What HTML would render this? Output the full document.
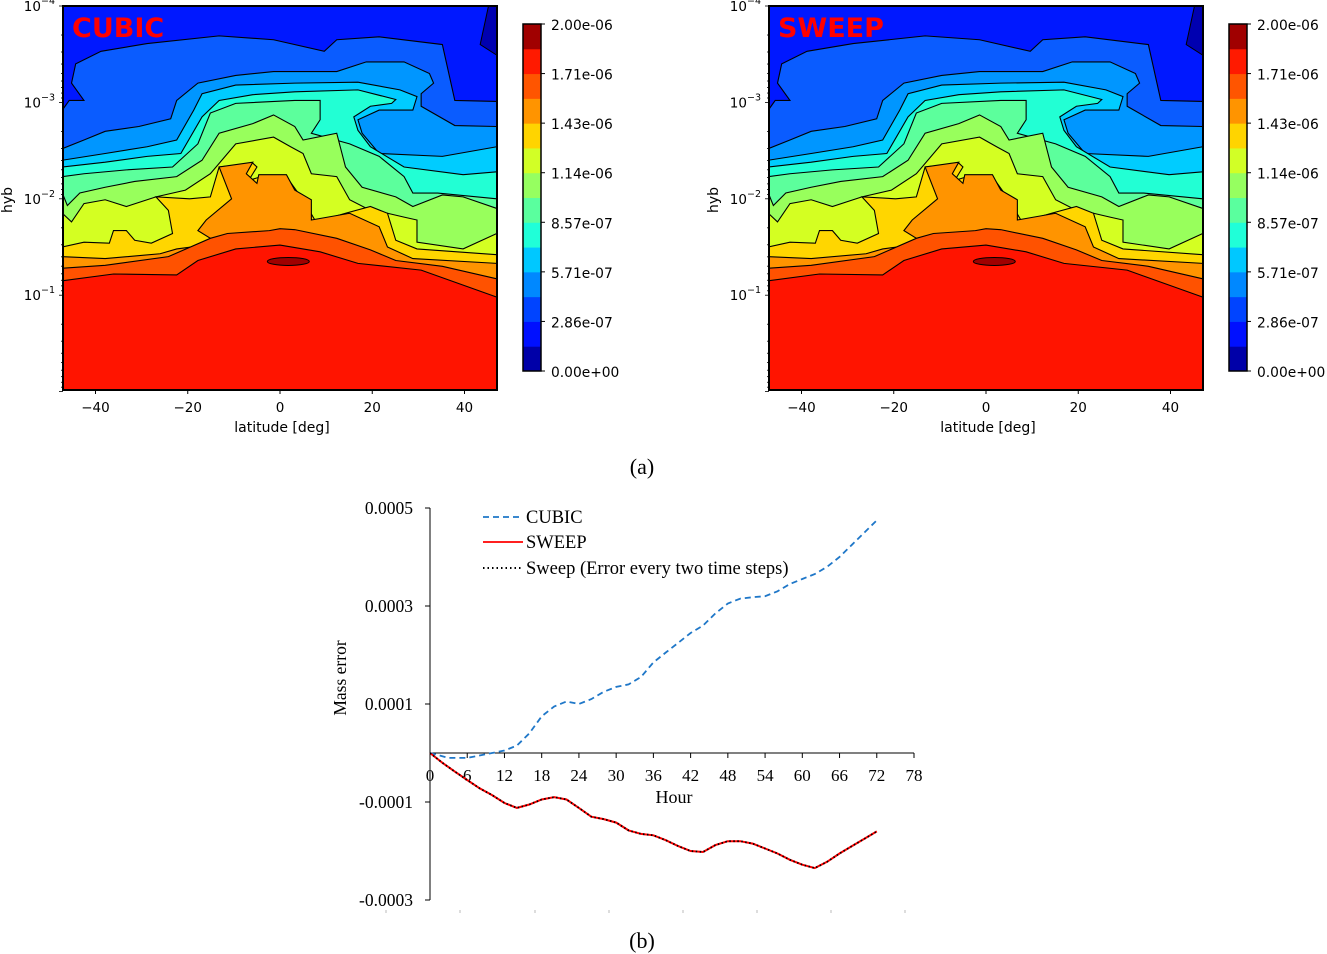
<!DOCTYPE html>
<html><head><meta charset="utf-8"><style>
html,body{margin:0;padding:0;background:#fff;}
svg{display:block;}
</style></head><body>
<svg id="root" width="1327" height="954" viewBox="0 0 1327 954" xmlns="http://www.w3.org/2000/svg"></svg>
<script>
// ---------- Contour data: band colors (top region first) and boundaries as [lat, log10(hyb)] ----------
const levelLabels = ["0.00e+00","2.86e-07","5.71e-07","8.57e-07","1.14e-06","1.43e-06","1.71e-06","2.00e-06"];
const cbarColors = ["#0000a8","#0010ff","#0044ff","#0088ff","#00c8ff","#20ffd8","#5aff9e","#96ff60","#d2ff26","#ffd400","#ff9400","#ff5500","#ff1a00","#a00000"];
const topBandColor = "#0018ff";
const bandColors = ["#0a5cff","#0096ff","#00ccff","#22ffd4","#5cff9c","#98ff5c","#d4ff22","#ffd600","#ff9400","#ff5200","#ff1400"];
const b1 = [[-47.2,-2.92],[-45.7,-3.02],[-42.5,-3.02],[-45.2,-3.2],[-44.3,-3.4],[-38.8,-3.53],[-28.8,-3.61],[-13.2,-3.69],[-1.4,-3.65],[9.6,-3.53],[12.3,-3.65],[21.5,-3.68],[35.2,-3.6],[37.9,-3.02],[47,-3.01]];
const b2 = [[-47.2,-2.52],[-42.5,-2.61],[-37.9,-2.7],[-30.6,-2.75],[-23.7,-2.83],[-22.4,-3.02],[-17.8,-3.2],[-9.6,-3.28],[-1.4,-3.32],[12.3,-3.32],[18.7,-3.42],[26.9,-3.42],[32.4,-3.3],[33.3,-3.2],[30.6,-3.09],[30.6,-2.96],[37.9,-2.76],[47,-2.75]];
const b3 = [[-47.2,-2.4],[-37.9,-2.47],[-28.8,-2.54],[-22.4,-2.61],[-18.7,-2.92],[-16.9,-3.09],[-9.6,-3.18],[3.2,-3.2],[16.9,-3.21],[26,-3.13],[29.7,-3.06],[28.8,-2.92],[21.5,-2.92],[16.9,-2.82],[17.8,-2.68],[21.5,-2.47],[35.2,-2.44],[47,-2.54]];
const b4 = [[-47.2,-2.33],[-37.9,-2.38],[-28.8,-2.44],[-21.5,-2.47],[-16.9,-2.85],[-13.2,-3.02],[-5.9,-3.08],[3.2,-3.11],[16.9,-3.13],[25.1,-3.03],[24.2,-2.99],[19.6,-2.96],[16,-2.85],[16.9,-2.71],[19.6,-2.54],[26.9,-2.33],[39.7,-2.25],[47,-2.28]];
const b5 = [[-47.2,-2.23],[-42.5,-2.26],[-33.3,-2.3],[-23.3,-2.33],[-17.8,-2.57],[-15.1,-2.89],[-9.6,-2.99],[3.2,-3.02],[8.7,-3.02],[8.7,-2.82],[6.8,-2.68],[15.1,-2.57],[21.5,-2.44],[26.9,-2.23],[28.8,-2.06],[34.2,-2.06],[47,-2.0]];
const b6 = [[-47.2,-2.06],[-46.1,-1.93],[-43.4,-2.06],[-37.9,-2.12],[-31.5,-2.18],[-22.4,-2.23],[-16.9,-2.4],[-13.2,-2.68],[-5.9,-2.78],[-1.4,-2.87],[3.2,-2.75],[5,-2.61],[12.3,-2.68],[14.2,-2.33],[17.8,-2.12],[25.1,-2.02],[28.8,-1.92],[35.2,-2.04],[39.7,-2.02],[47,-1.9]];
const b7 = [[-47.2,-1.85],[-45.2,-1.76],[-42.5,-1.95],[-37.9,-1.99],[-33.3,-1.92],[-26.9,-2.02],[-20.5,-2.09],[-15.1,-2.26],[-9.6,-2.57],[-1.4,-2.64],[2.3,-2.54],[5,-2.47],[6.8,-2.26],[12.3,-2.23],[15.1,-1.99],[19.6,-1.88],[23.3,-1.85],[26.9,-1.81],[29.7,-1.78],[29.7,-1.55],[39.7,-1.48],[47,-1.64]];
const b8 = [[-47.2,-1.5],[-42.5,-1.55],[-37,-1.54],[-36.1,-1.67],[-33.3,-1.67],[-31.5,-1.57],[-27.9,-1.54],[-23.3,-1.64],[-24.2,-1.88],[-26.9,-2.02],[-19.6,-2.0],[-15.1,-2.02],[-13.2,-2.33],[-5.9,-2.37],[-5,-2.33],[-6.8,-2.19],[-4.1,-2.23],[1.4,-2.23],[5,-1.99],[7.8,-1.76],[14.2,-1.85],[19.6,-1.92],[23.3,-1.85],[25.1,-1.57],[29.7,-1.48],[47,-1.42]];
const b9 = [[-47.2,-1.4],[-37.9,-1.38],[-26,-1.43],[-22.4,-1.48],[-16,-1.52],[-15.1,-1.59],[-17.8,-1.67],[-16,-1.78],[-10.5,-2.0],[-13.2,-2.33],[-5.9,-2.38],[-7.3,-2.26],[-5,-2.16],[-4.6,-2.25],[1.4,-2.25],[3.2,-2.09],[6.8,-1.99],[6.8,-1.78],[15.1,-1.85],[21.5,-1.71],[23.3,-1.5],[28.8,-1.38],[47,-1.33]];
const b10 = [[-47.2,-1.28],[-37.9,-1.31],[-24.2,-1.4],[-15.1,-1.59],[-11.4,-1.64],[-2.3,-1.67],[0,-1.69],[3.2,-1.68],[12.3,-1.59],[19.6,-1.47],[25.1,-1.36],[35.2,-1.3],[47,-1.17]];
const b11 = [[-47.2,-1.15],[-36.1,-1.22],[-22.4,-1.21],[-17.8,-1.36],[-9.6,-1.48],[0,-1.52],[8.7,-1.45],[16.9,-1.33],[30.6,-1.26],[47,-0.98]];
const boundaries = [b1,b2,b3,b4,b5,b6,b7,b8,b9,b10,b11];
const navyCorner = [[45.2,-4],[47,-4],[47,-3.49],[43.4,-3.6]];
const blobMaxCenter = [1.8,-1.35];

// ---------- Line chart data (hours, mass error in units of 1e-4) ----------
const hoursCubic = [0,3,6,8,10,12,14,16,18,20,22,24,26,28,30,32,34,36,38,40,42,44,46,48,50,52,54,56,58,60,62,64,66,68,70,72];
const cubicVals = [0,-0.1,-0.1,-0.05,0,0.05,0.15,0.4,0.75,0.95,1.05,1.0,1.1,1.25,1.35,1.4,1.55,1.85,2.05,2.25,2.45,2.6,2.85,3.05,3.15,3.18,3.2,3.3,3.45,3.55,3.65,3.8,4.0,4.25,4.5,4.75];
const hoursSweep = [0,2,4,6,8,10,12,14,16,18,20,22,24,26,28,30,32,34,36,38,40,42,44,46,48,50,52,54,56,58,60,62,64,66,68,70,72];
const sweepVals = [0,-0.2,-0.38,-0.55,-0.72,-0.86,-1.02,-1.12,-1.05,-0.95,-0.9,-0.95,-1.12,-1.3,-1.35,-1.42,-1.58,-1.65,-1.68,-1.78,-1.9,-2.0,-2.02,-1.88,-1.8,-1.8,-1.85,-1.95,-2.05,-2.18,-2.28,-2.35,-2.22,-2.05,-1.9,-1.75,-1.6];
const sweep2Vals = [0,-0.2,-0.38,-0.55,-0.72,-0.86,-1.02,-1.12,-1.05,-0.95,-0.9,-0.95,-1.12,-1.3,-1.35,-1.42,-1.58,-1.65,-1.68,-1.78,-1.9,-2.0,-2.02,-1.88,-1.8,-1.8,-1.85,-1.95,-2.05,-2.18,-2.28,-2.35,-2.22,-2.05,-1.9,-1.75,-1.6];
const xTicks = [0,6,12,18,24,30,36,42,48,54,60,66,72,78];
const yTicks = [5,3,1,-1,-3];
const yTickLabels = ["0.0005","0.0003","0.0001","-0.0001","-0.0003"];

const NS = "http://www.w3.org/2000/svg";
const root = document.getElementById('root');
function mk(tag, attrs, parent, text){
  const e = document.createElementNS(NS, tag);
  for (const k in attrs) e.setAttribute(k, attrs[k]);
  if (text !== undefined) e.textContent = text;
  (parent||root).appendChild(e);
  return e;
}
const SANS = '"DejaVu Sans","Liberation Sans",sans-serif';
const SERIF = '"Liberation Serif",serif';

function drawContour(ox, title, nm){
  const g = mk('g', {});
  
  
  const L = ox + 63, R = ox + 497, T = 6, B = 390;
  const xs = lat => ox + 280 + lat * (369/80);
  const ys = lg => 6 + (lg + 4) * 96.4;
  const clip = mk('clipPath', {id: 'clip' + nm}, g);
  mk('rect', {x: L, y: T, width: R - L, height: B - T}, clip);
  const pg = mk('g', {'clip-path': 'url(#clip' + nm + ')'}, g);
  const bg = mk('rect', {x: L, y: T, width: R - L, height: B - T, fill: topBandColor}, pg);
  
  
  const corner = mk('polygon', {points: navyCorner.map(p => xs(p[0]) + ',' + ys(p[1])).join(' '), fill: '#0000b0', stroke: '#000', 'stroke-width': 1}, pg);
  
  
  boundaries.forEach((bd, i) => {
    const pts = bd.map(p => xs(p[0]) + ',' + ys(p[1]));
    const poly = pts.concat([(R + 5) + ',' + ys(bd[bd.length-1][1]), (R + 5) + ',' + (B + 5), (L - 5) + ',' + (B + 5), (L - 5) + ',' + ys(bd[0][1])]);
    const band = mk('polygon', {points: poly.join(' '), fill: bandColors[i]}, pg);
    
    
    const line = mk('polyline', {points: pts.join(' '), fill: 'none', stroke: '#000', 'stroke-width': 1.1}, pg);
    
    
  });
  const bl = mk('ellipse', {cx: xs(blobMaxCenter[0]), cy: ys(blobMaxCenter[1]), rx: 21, ry: 4, fill: '#a00000', stroke: '#000', 'stroke-width': 1}, pg);
  
  
  mk('rect', {x: L, y: T, width: R - L, height: B - T, fill: 'none', stroke: '#000', 'stroke-width': 2}, g);
  [-40,-20,0,20,40].forEach(v => {
    mk('line', {x1: xs(v), x2: xs(v), y1: B, y2: B + 4, stroke: '#000'}, g);
    const t = mk('text', {x: xs(v), y: B + 22, 'text-anchor': 'middle', 'font-family': SANS, 'font-size': 13.5}, g, (v < 0 ? '\u2212' : '') + Math.abs(v));
    
    
  });
  const xt = mk('text', {x: ox + 282, y: 432, 'text-anchor': 'middle', 'font-family': SANS, 'font-size': 14}, g, 'latitude [deg]');
  
  
  for (let e = -4; e <= 0; e++) {
    for (let k = 1; k < 10; k++) {
      const lg = e + Math.log10(k);
      if (lg > 0.001) continue;
      const y = ys(lg);
      mk('line', {x1: L - (k === 1 ? 4 : 2), x2: L, y1: y, y2: y, stroke: '#000', 'stroke-width': 0.8}, g);
    }
    if (e <= -1) {
      const t = mk('text', {x: L - 8, y: ys(e) + 5, 'text-anchor': 'end', 'font-family': SANS, 'font-size': 13.5}, g);
      
      
      mk('tspan', {}, t, '10');
      mk('tspan', {dy: -7, 'font-size': 9.5}, t, '\u2212' + Math.abs(e));
    }
  }
  const yt = mk('text', {x: ox + 12, y: 200, 'text-anchor': 'middle', 'font-family': SANS, 'font-size': 14, transform: 'rotate(-90 ' + (ox + 12) + ' 200)'}, g, 'hyb');
  
  
  const tt = mk('text', {x: ox + 72, y: 37, 'font-family': SANS, 'font-weight': 'bold', 'font-size': 27, fill: '#ff0000'}, g, title);
  
  
  const cx = ox + 523, cw = 18, cT = 24, cB = 371, bh = (cB - cT) / cbarColors.length;
  cbarColors.forEach((c, i) => {
    const r = mk('rect', {x: cx, y: cB - (i + 1) * bh, width: cw, height: bh + 0.5, fill: c}, g);
    
    
  });
  mk('rect', {x: cx, y: cT, width: cw, height: cB - cT, fill: 'none', stroke: '#000', 'stroke-width': 1.5}, g);
  levelLabels.forEach((lab, i) => {
    const y = cB - i * 2 * bh;
    mk('line', {x1: cx + cw, x2: cx + cw + 4, y1: y, y2: y, stroke: '#000'}, g);
    const t = mk('text', {x: cx + cw + 10, y: y + 6, 'font-family': SANS, 'font-size': 13.8}, g, lab);
    
    
  });
}
drawContour(0, 'CUBIC', 'cubic');
drawContour(706, 'SWEEP', 'sweep');

const la = mk('text', {x: 642, y: 474, 'text-anchor': 'middle', 'font-family': SERIF, 'font-size': 22}, root, '(a)');


const lb = mk('text', {x: 642, y: 948, 'text-anchor': 'middle', 'font-family': SERIF, 'font-size': 22}, root, '(b)');



(function(){
  const g = mk('g', {});
  
  
  const xS = h => 430 + h * (484 / 78);
  const yS = v => 753 - v * 49;
  mk('line', {x1: 430, x2: 430, y1: 508, y2: 900, stroke: '#000', 'stroke-width': 1}, g);
  mk('line', {x1: 430, x2: 914, y1: 753, y2: 753, stroke: '#000', 'stroke-width': 1}, g);
  yTicks.forEach((v, i) => {
    mk('line', {x1: 425, x2: 430, y1: yS(v), y2: yS(v), stroke: '#000'}, g);
    const t = mk('text', {x: 413, y: yS(v) + 6, 'text-anchor': 'end', 'font-family': SERIF, 'font-size': 17.5}, g, yTickLabels[i]);
    
    
  });
  xTicks.forEach(h => {
    mk('line', {x1: xS(h), x2: xS(h), y1: 753, y2: 758, stroke: '#000'}, g);
    const t = mk('text', {x: xS(h), y: 781, 'text-anchor': 'middle', 'font-family': SERIF, 'font-size': 17}, g, String(h));
    
    
  });
  [386,460,535,609,683,757,831,905].forEach(x => mk('line', {x1: x, x2: x, y1: 910, y2: 913, stroke: '#bbb'}, g));
  const xt = mk('text', {x: 674, y: 803, 'text-anchor': 'middle', 'font-family': SERIF, 'font-size': 18}, g, 'Hour');
  
  
  const yt = mk('text', {x: 346, y: 678, 'text-anchor': 'middle', 'font-family': SERIF, 'font-size': 17.5, transform: 'rotate(-90 346 678)'}, g, 'Mass error');
  
  
  const path = (hs, vs) => hs.map((h, i) => xS(h).toFixed(1) + ',' + yS(vs[i]).toFixed(1)).join(' ');
  const c = mk('polyline', {points: path(hoursCubic, cubicVals), fill: 'none', stroke: '#1f77c8', 'stroke-width': 1.8, 'stroke-dasharray': '6,4'}, g);
  
  
  const s = mk('polyline', {points: path(hoursSweep, sweepVals), fill: 'none', stroke: '#ff0000', 'stroke-width': 2}, g);
  
  
  const s2 = mk('polyline', {points: path(hoursSweep, sweep2Vals), fill: 'none', stroke: '#000', 'stroke-width': 1.8, 'stroke-dasharray': '1.5,2.5'}, g);
  
  
  const lg = mk('g', {}, g);
  
  
  mk('line', {x1: 483, x2: 523, y1: 517, y2: 517, stroke: '#1f77c8', 'stroke-width': 1.8, 'stroke-dasharray': '6,4'}, lg);
  mk('line', {x1: 483, x2: 523, y1: 542, y2: 542, stroke: '#ff0000', 'stroke-width': 1.8}, lg);
  mk('line', {x1: 483, x2: 523, y1: 568, y2: 568, stroke: '#000', 'stroke-width': 2, 'stroke-dasharray': '1.5,3'}, lg);
  [['CUBIC', 523], ['SWEEP', 548], ['Sweep (Error every two time steps)', 574]].forEach(([t, y]) => {
    const e = mk('text', {x: 526, y: y, 'font-family': SERIF, 'font-size': 18.5}, lg, t);
    
    
  });
})();
</script>
</body></html>
